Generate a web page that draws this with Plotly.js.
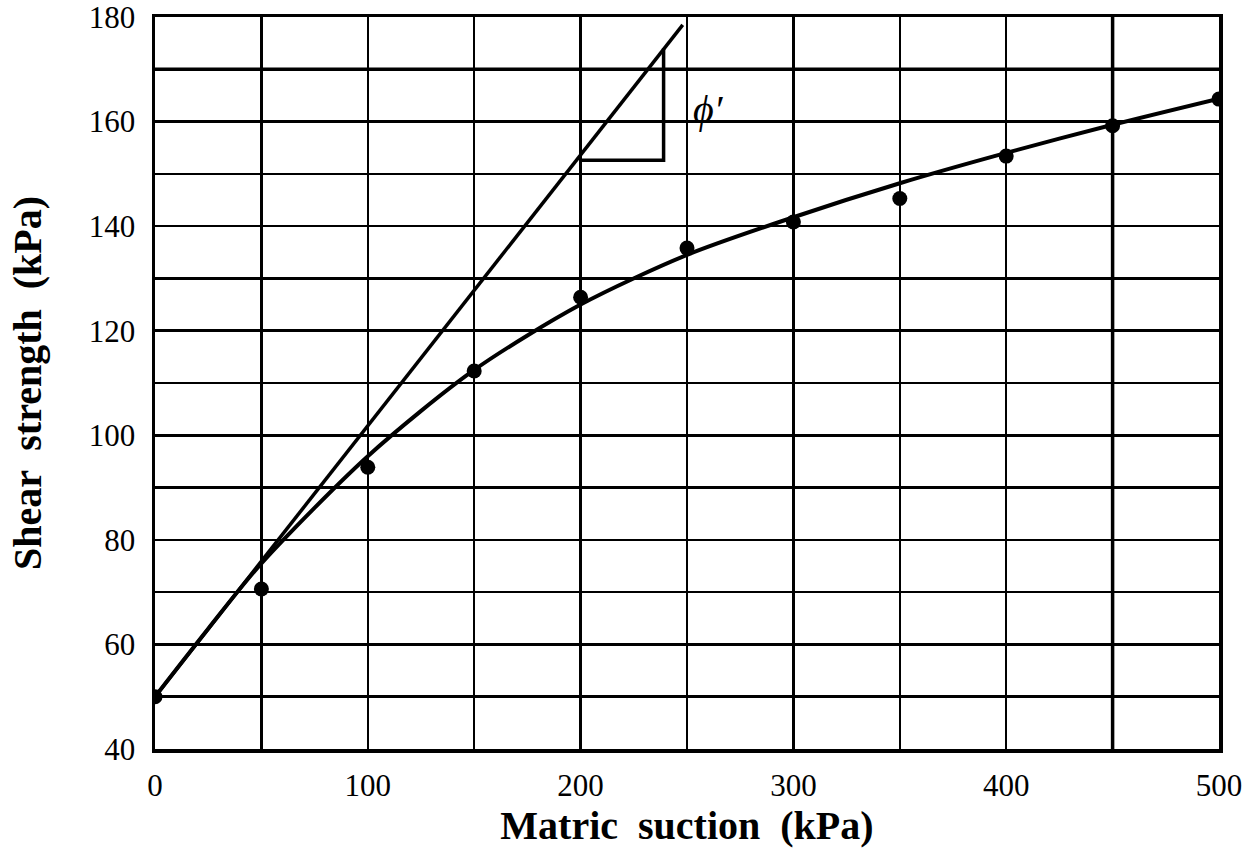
<!DOCTYPE html>
<html>
<head>
<meta charset="utf-8">
<script src="https://cdn.plot.ly/plotly-3.0.1.min.js"></script>
<style>
  html, body { margin: 0; padding: 0; background: #fff; }
  #chart { width: 1254px; height: 865px; }
</style>
</head>
<body>
<div id="chart"></div>
<script>
// Measured data points
const suction = [0, 50, 100, 150, 200, 250, 300, 350, 400, 450, 500];
const strength = [50, 70.6, 93.9, 112.3, 126.4, 135.8, 140.8, 145.3, 153.4, 159.2, 164.3];

// Fitted curve
const curveX = [0, 25, 50, 100, 150, 200, 250, 300, 350, 400, 450, 500];
const curveY = [50, 63, 75.5, 96, 112.5, 125, 134.5, 141.7, 148.2, 154, 159.4, 164.4];

// Straight tangent line (slope phi')
const tangentX = [0, 248];
const tangentY = [50, 178.5];

// Slope triangle
const triX = [200, 239, 239];
const triY = [152.6, 152.6, 174];

// Label
const phiLabel = {x: 260, y: 162.4, text: 'ϕ′'};

const xTitle = 'Matric  suction  (kPa)';
const yTitle = 'Shear  strength  (kPa)';

const serif = 'Liberation Serif, Times New Roman, serif';

const traces = [
  {x: tangentX, y: tangentY, mode: 'lines', line: {color: '#000', width: 3.5}, hoverinfo: 'skip'},
  {x: triX, y: triY, mode: 'lines', line: {color: '#000', width: 3.5}, hoverinfo: 'skip'},
  {x: curveX, y: curveY, mode: 'lines', line: {color: '#000', width: 4, shape: 'spline', smoothing: 0.8}, hoverinfo: 'skip'},
  {x: suction, y: strength, mode: 'markers', marker: {color: '#000', size: 15, symbol: 'circle'}}
];

const layout = {
  width: 1254, height: 865,
  margin: {l: 155, r: 35, t: 17, b: 116},
  showlegend: false,
  paper_bgcolor: '#fff', plot_bgcolor: '#fff',
  font: {family: serif, color: '#000', size: 31},
  xaxis: {
    range: [0, 500], dtick: 100, tick0: 0,
    showgrid: true, gridcolor: '#000', gridwidth: 2.5,
    minor: {dtick: 50, showgrid: true, gridcolor: '#000', gridwidth: 2.5},
    showline: true, linecolor: '#000', linewidth: 3.5, mirror: true,
    ticks: '', zeroline: false, ticklabelstandoff: 6, ticklabeloverflow: 'allow',
    tickfont: {family: serif, size: 31, color: '#000'},
    title: {text: '<b>' + xTitle + '</b>', font: {family: serif, size: 40, color: '#000'}, standoff: 0}
  },
  yaxis: {
    range: [40, 180], dtick: 20, tick0: 40,
    showgrid: true, gridcolor: '#000', gridwidth: 2.5,
    minor: {dtick: 10, showgrid: true, gridcolor: '#000', gridwidth: 2.5},
    showline: true, linecolor: '#000', linewidth: 3.5, mirror: true,
    ticks: '', zeroline: false, ticklabelstandoff: 10, ticklabeloverflow: 'allow',
    tickfont: {family: serif, size: 31, color: '#000'},
    title: {text: '<b>' + yTitle + '</b>', font: {family: serif, size: 40, color: '#000'}, standoff: 36}
  },
  shapes: [
    {type: 'line', xref: 'paper', x0: 0, x1: 1, yref: 'y', y0: 170, y1: 170, line: {color: '#000', width: 3.5}, layer: 'below'},
    {type: 'line', yref: 'paper', y0: 0, y1: 1, xref: 'x', x0: 450, x1: 450, line: {color: '#000', width: 3.5}, layer: 'below'}
  ],
  annotations: [
    {x: phiLabel.x, y: phiLabel.y, xref: 'x', yref: 'y', text: '<i>' + phiLabel.text + '</i>', showarrow: false,
     font: {family: serif, size: 40, color: '#000'}, bgcolor: 'rgba(0,0,0,0)'}
  ]
};

Plotly.newPlot('chart', traces, layout, {displayModeBar: false, staticPlot: true});
</script>
</body>
</html>
